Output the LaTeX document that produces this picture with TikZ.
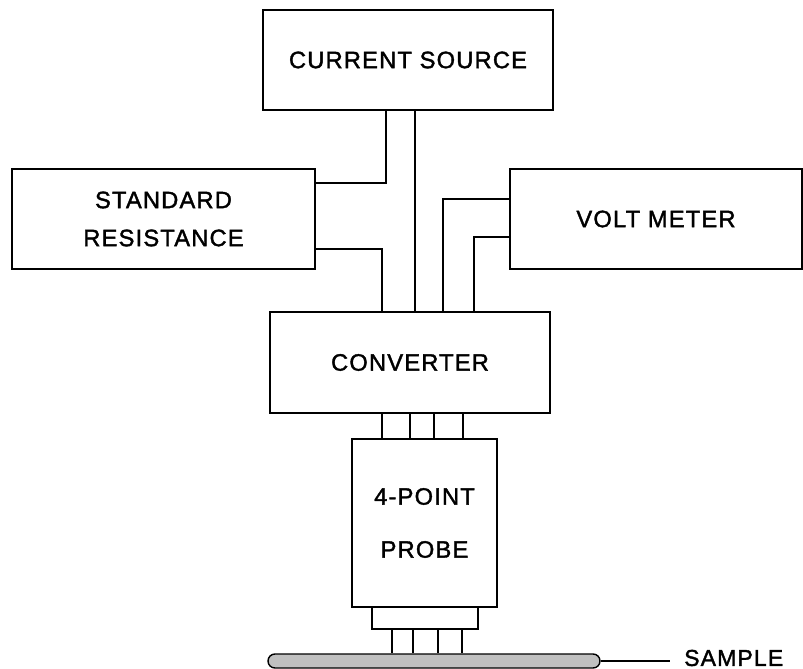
\documentclass[tikz,border=0pt]{standalone}
\usepackage{fontspec}
\setmainfont{Liberation Sans}[LetterSpace=5, FakeBold=1.6]
\usepackage{xcolor}
\usepackage{tikz}
\usetikzlibrary{positioning, calc}
\definecolor{samplegray}{RGB}{192,192,192}
\tikzstyle{block} = [rectangle, draw=black, line width=1.4pt, text centered, align=center, font=\fontsize{23.7pt}{38pt}\selectfont]
\tikzstyle{wire} = [line width=1.4pt]

\begin{document}
\begin{tikzpicture}[x=1pt, y=-1pt]
\useasboundingbox (0,0) rectangle (803,669);

\node (source) [block, minimum width=290pt, minimum height=100pt] at (408,60) {CURRENT SOURCE};
\node (resist) [block, minimum width=303pt, minimum height=100pt] at (163.5,219) {STANDARD\\RESISTANCE};
\node (meter) [block, minimum width=292pt, minimum height=100pt] at (656,219) {VOLT METER};
\node (conv) [block, minimum width=280pt, minimum height=101pt] at (410,362.5) {CONVERTER};
\node (probe) [block, minimum width=145pt, minimum height=168pt, font=\fontsize{23.7pt}{53pt}\selectfont] at (424.5,523) {4-POINT\\PROBE};
\node (tip) [block, minimum width=106pt, minimum height=22pt] at (425,618) {};
\node (sample) [draw=black, fill=samplegray, line width=1.4pt, rounded corners=7pt, minimum width=332pt, minimum height=14pt, inner sep=0pt] at (434,661) {};
\node (samplelabel) [anchor=west, inner sep=0pt, font=\fontsize{23pt}{28pt}\selectfont] at (684,658) {SAMPLE};

% current source and standard resistance into the converter
\draw [wire] ([xshift=-22pt]source.south) |- ([yshift=36pt]resist.east);
\draw [wire] ([xshift=7pt]source.south) -- ([xshift=7pt]source.south |- conv.north);
\draw [wire] ([yshift=-30pt]resist.east) -| ([xshift=-28pt]conv.north);

% volt meter leads
\draw [wire] ([yshift=20pt]meter.west) -| ([xshift=33pt]conv.north);
\draw [wire] ([yshift=-18pt]meter.west) -| ([xshift=64pt]conv.north);

% converter to probe, probe tips onto the sample
\foreach \dx in {-28,0,24,53}
  \draw [wire] ([xshift=\dx pt]conv.south) -- ([xshift=\dx pt]conv.south |- probe.north);
\foreach \dx in {-33,-12,13,37}
  \draw [wire] ([xshift=\dx pt]tip.south) -- ([xshift=\dx pt]tip.south |- sample.north);

\draw [wire, shorten >=14pt] (sample.east) -- (sample.east -| samplelabel.west);

\end{tikzpicture}
\end{document}
